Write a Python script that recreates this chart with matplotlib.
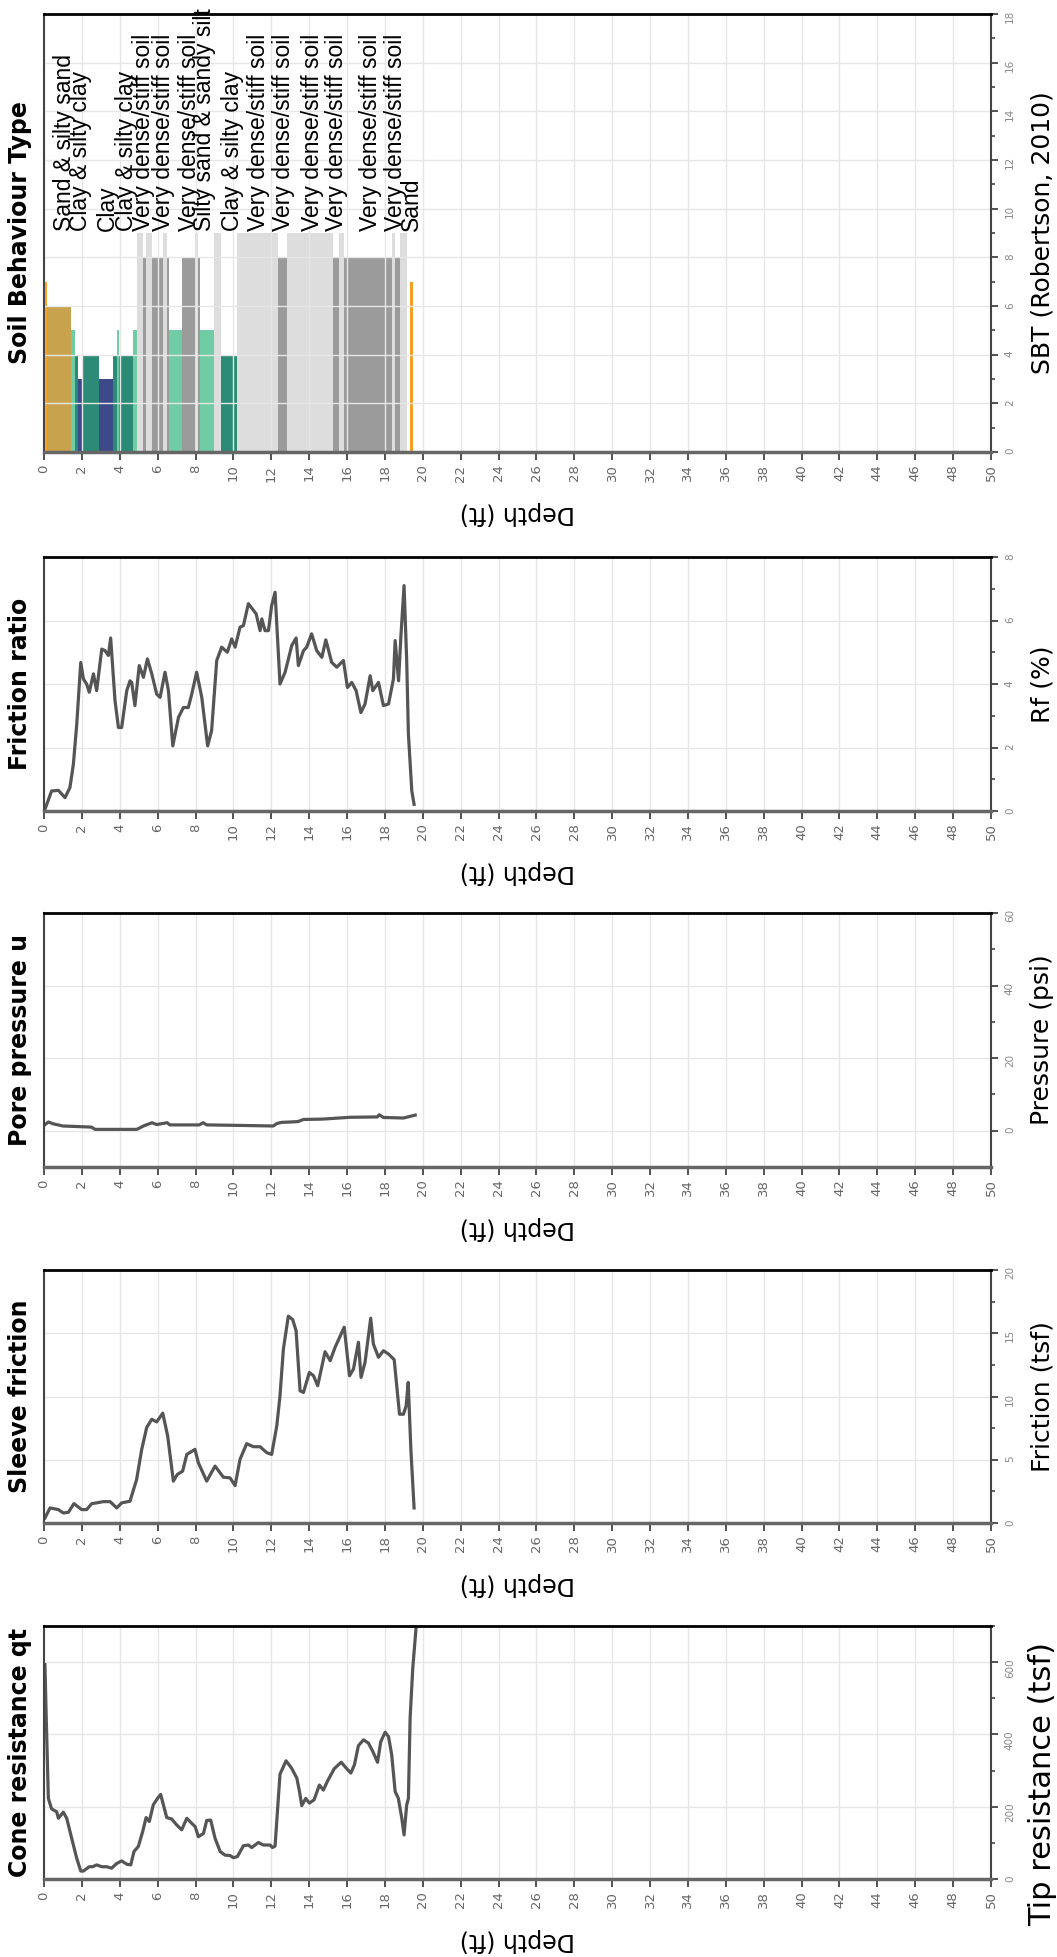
import matplotlib.pyplot as plt
import numpy as np

# cone resistance qt (tsf)
qt_depth = [0.05, 0.11, 0.23, 0.4, 0.67, 0.76, 1.02, 1.2, 1.46, 1.73, 1.94, 2.08, 2.39, 2.57, 2.78,
            3.05, 3.31, 3.57, 3.84, 4.1, 4.37, 4.58, 4.75, 4.98, 5.21, 5.39, 5.56, 5.77, 5.99, 6.16,
            6.48, 6.74, 7.0, 7.27, 7.54, 7.8, 7.98, 8.15, 8.42, 8.59, 8.8, 9.03, 9.3, 9.56, 9.82,
            10.0, 10.21, 10.53, 10.79, 10.97, 11.32, 11.58, 11.94, 12.06, 12.2, 12.46, 12.78, 13.08, 13.35, 13.49,
            13.61, 13.82, 14.01, 14.26, 14.54, 14.75, 14.96, 15.32, 15.69, 15.99, 16.2, 16.39, 16.6, 16.87, 17.13,
            17.36, 17.61, 17.78, 18.01, 18.19, 18.36, 18.54, 18.71, 18.89, 19.01, 19.15, 19.24, 19.33, 19.47, 19.65, 19.75]
qt = [593, 463, 223, 194, 186, 168, 185, 168, 113, 57, 22, 22, 34, 34, 39,
      34, 34, 30, 43, 50, 41, 39, 76, 90, 131, 170, 159, 205, 223, 234,
      170, 166, 150, 136, 168, 154, 145, 117, 126, 162, 163, 113, 76, 66, 65,
      59, 62, 92, 94, 87, 101, 94, 94, 87, 91, 290, 327, 306, 279, 242,
      203, 223, 210, 219, 260, 246, 270, 305, 323, 305, 293, 316, 369, 385, 376,
      353, 323, 380, 406, 394, 343, 242, 223, 168, 122, 205, 223, 445, 583, 699, 780]

# sleeve friction fs (tsf)
fs_depth = [0.05, 0.32, 0.76, 1.02, 1.29, 1.58, 1.99, 2.25, 2.52, 2.78, 3.13, 3.49, 3.84, 4.1, 4.54,
            4.89, 5.16, 5.42, 5.69, 5.95, 6.27, 6.53, 6.83, 7.04, 7.32, 7.54, 7.97, 8.15, 8.59, 9.03,
            9.47, 9.82, 10.09, 10.35, 10.7, 11.06, 11.41, 11.76, 12.02, 12.29, 12.46, 12.64, 12.9, 13.13, 13.31,
            13.52, 13.7, 14.01, 14.23, 14.45, 14.84, 15.11, 15.37, 15.85, 16.13, 16.34, 16.6, 16.74, 16.95, 17.25,
            17.39, 17.66, 17.92, 18.19, 18.49, 18.77, 18.98, 19.12, 19.23, 19.37, 19.54]
fs = [0.4, 1.19, 1.06, 0.79, 0.85, 1.53, 1.06, 1.06, 1.53, 1.59, 1.69, 1.69, 1.19, 1.59, 1.72,
      3.44, 5.82, 7.54, 8.2, 7.99, 8.68, 6.88, 3.31, 3.84, 4.1, 5.42, 5.82, 4.76, 3.31, 4.5,
      3.62, 3.57, 2.96, 5.03, 6.27, 6.03, 6.03, 5.56, 5.42, 7.67, 10.05, 13.76, 16.35, 16.08, 15.2,
      10.45, 10.32, 11.9, 11.64, 10.85, 13.54, 12.83, 13.89, 15.48, 11.64, 12.17, 14.29, 11.51, 12.7, 16.19,
      14.15, 13.1, 13.62, 13.36, 12.91, 8.6, 8.6, 9.26, 11.11, 5.82, 1.19]

# pore pressure u (psi)
u_depth = [0.0, 0.23, 0.49, 1.0, 2.5, 2.7, 4.9, 5.25, 5.7, 5.95, 6.5, 6.65, 8.2, 8.4, 8.6,
           10.35, 12.1, 12.3, 12.55, 13.4, 13.7, 14.7, 16.16, 17.6, 17.7, 17.92, 18.98, 19.6]
u = [1.46, 2.4, 1.9, 1.3, 1.0, 0.37, 0.37, 1.3, 2.2, 1.7, 2.2, 1.6, 1.6, 2.2, 1.6,
     1.46, 1.3, 2.0, 2.3, 2.5, 3.1, 3.2, 3.7, 3.8, 4.4, 3.65, 3.5, 4.3]

# friction ratio Rf (%)
fr_depth = [0.05, 0.4, 0.76, 1.11, 1.37, 1.55, 1.73, 1.94, 2.08, 2.25, 2.39, 2.61, 2.78, 3.05, 3.22,
            3.4, 3.52, 3.75, 3.93, 4.1, 4.37, 4.54, 4.63, 4.8, 5.03, 5.25, 5.46, 5.69, 5.95, 6.13,
            6.39, 6.57, 6.8, 7.1, 7.36, 7.62, 7.8, 8.06, 8.33, 8.64, 8.85, 9.12, 9.38, 9.68, 9.91,
            10.09, 10.35, 10.53, 10.79, 11.2, 11.41, 11.5, 11.67, 11.85, 12.02, 12.2, 12.46, 12.73, 13.08, 13.31,
            13.43, 13.7, 13.87, 14.13, 14.4, 14.67, 14.88, 15.19, 15.46, 15.81, 16.02, 16.25, 16.48, 16.73, 16.95,
            17.22, 17.36, 17.66, 17.92, 18.19, 18.45, 18.54, 18.72, 18.84, 19.01, 19.15, 19.24, 19.42, 19.54]
fr = [0.05, 0.63, 0.65, 0.42, 0.74, 1.47, 2.74, 4.68, 4.16, 4.0, 3.74, 4.32, 3.79, 5.1, 5.05,
      4.9, 5.45, 3.47, 2.63, 2.63, 3.79, 4.1, 4.05, 3.32, 4.58, 4.21, 4.79, 4.32, 3.68, 3.58,
      4.37, 3.79, 2.05, 2.95, 3.26, 3.26, 3.68, 4.37, 3.58, 2.05, 2.53, 4.74, 5.16, 5.0, 5.42,
      5.16, 5.79, 5.84, 6.53, 6.21, 5.68, 6.05, 5.68, 5.68, 6.47, 6.89, 4.0, 4.37, 5.21, 5.45,
      4.58, 5.05, 5.16, 5.58, 5.05, 4.84, 5.39, 4.68, 4.53, 4.74, 3.89, 4.05, 3.79, 3.1, 3.37,
      4.26, 3.79, 4.05, 3.32, 3.37, 4.16, 5.37, 4.1, 5.47, 7.1, 4.74, 2.42, 0.63, 0.21]

# soil behaviour type (Robertson 2010) layers
sbt_top = [0, 0.18, 1.41, 1.64, 1.81, 2.04, 2.92, 3.63, 3.87, 3.98, 4.72, 4.89, 5.25, 5.39, 5.69, 6.27, 6.51,
           6.62, 7.27, 7.98, 8.15, 8.24, 8.98, 9.33, 10.21, 12.38, 12.82, 15.28, 15.55, 15.85, 18.36, 18.54, 18.77, 19.33]
sbt_bottom = [0.18, 1.41, 1.64, 1.81, 2.04, 2.92, 3.63, 3.87, 3.98, 4.72, 4.89, 5.25, 5.39, 5.69, 6.27, 6.51, 6.62,
              7.27, 7.98, 8.15, 8.24, 8.98, 9.33, 10.21, 12.38, 12.82, 15.28, 15.55, 15.85, 18.36, 18.54, 18.77, 19.19, 19.47]
sbt_zone = [7, 6, 5, 4, 3, 4, 3, 4, 5, 4, 5, 9, 8, 9, 8, 9, 8, 5, 8, 9, 8, 5, 9, 4, 9, 8, 9, 8, 9, 8, 9, 8, 9, 7]

sbt_label_depth = [1.09, 1.95, 3.37, 4.35, 5.25, 6.3, 7.68, 8.5, 9.93, 11.33, 12.63, 14.15, 15.45, 17.26, 18.55, 19.4]
sbt_label_text = ['Sand & silty sand', 'Clay & silty clay', 'Clay', 'Clay & silty clay',
                  'Very dense/stiff soil', 'Very dense/stiff soil', 'Very dense/stiff soil',
                  'Silty sand & sandy silt', 'Clay & silty clay', 'Very dense/stiff soil',
                  'Very dense/stiff soil', 'Very dense/stiff soil', 'Very dense/stiff soil',
                  'Very dense/stiff soil', 'Very dense/stiff soil', 'Sand']

zone_colors = {3: '#3d4a8a', 4: '#2b8b76', 5: '#6fcca4', 6: '#c9a24e',
               7: '#f4a026', 8: '#9b9b9b', 9: '#dddddd'}

W, H = 1057, 1957
fig = plt.figure(figsize=(W / 100, H / 100), dpi=100)


def make_axes(top, bottom):
    return fig.add_axes([44 / W, (H - bottom) / H, 947 / W, (bottom - top) / H])


def setup(ax, top, bottom, title, ylabel, ylim, major, minor, label_y=0.5, label_size=18):
    ax.set_xlim(0, 50)
    ax.set_ylim(*ylim)
    ax.set_xticks(np.arange(0, 51, 2))
    ax.set_yticks(np.arange(0, ylim[1] + 0.01, major))
    ax.set_yticks(np.arange(minor, ylim[1] + 0.01, major), minor=True)
    ax.yaxis.tick_right()
    ax.grid(True, which='major', color='#e6e6e6', linewidth=1)
    ax.tick_params(axis='x', direction='out', length=6, width=1.3, color='#444444',
                   labelsize=9.5, labelcolor='#666666', labelrotation=90, pad=3)
    ax.tick_params(axis='y', which='major', direction='out', length=5, width=1.3, color='#444444',
                   labelsize=7.5, labelcolor='#888888', labelrotation=90, pad=5)
    ax.tick_params(axis='y', which='minor', direction='out', length=3, width=1.2, color='#444444')
    ax.spines['top'].set_color('black')
    ax.spines['top'].set_linewidth(2)
    ax.spines['bottom'].set_color('#666666')
    ax.spines['bottom'].set_linewidth(2.5)
    ax.spines['left'].set_color('#444444')
    ax.spines['left'].set_linewidth(1.5)
    ax.spines['right'].set_color('#444444')
    ax.spines['right'].set_linewidth(1.5)
    ax.text(-0.0253, 0.5, title, transform=ax.transAxes, rotation=90, ha='center', va='center',
            fontsize=17, fontweight='bold')
    ax.yaxis.set_label_position('right')
    ax.set_ylabel(ylabel, fontsize=label_size)
    ax.yaxis.label.set_rotation(90)
    ax.yaxis.label.set_rotation_mode('anchor')
    ax.yaxis.label.set_horizontalalignment('center')
    ax.yaxis.label.set_verticalalignment('center')
    ax.yaxis.set_label_coords(1.054, label_y)
    ax.set_xlabel('Depth (ft)', fontsize=17, rotation=180, ha='center', va='center')
    ax.xaxis.set_label_coords(0.5, -61 / (bottom - top))


line_kw = dict(color='#555555', linewidth=2.3)

# Soil behaviour type
ax = make_axes(14, 452)
setup(ax, 14, 452, 'Soil Behaviour Type', 'SBT (Robertson, 2010)', (0, 18), 2, 1)
ax.bar(sbt_top, sbt_zone, width=np.subtract(sbt_bottom, sbt_top), align='edge',
       color=[zone_colors[z] for z in sbt_zone], linewidth=0)
for d, t in zip(sbt_label_depth, sbt_label_text):
    ax.text(d, 9.1, t, rotation=90, ha='center', va='bottom', fontsize=16.5, family='Liberation Sans')

# Friction ratio
ax = make_axes(557, 811)
setup(ax, 557, 811, 'Friction ratio', 'Rf (%)', (0, 8), 2, 1)
ax.plot(fr_depth, fr, **line_kw)

# Pore pressure
ax = make_axes(913, 1167)
setup(ax, 913, 1167, 'Pore pressure u', 'Pressure (psi)', (-10, 60), 20, 10)
ax.plot(u_depth, u, **line_kw)

# Sleeve friction
ax = make_axes(1270, 1523)
setup(ax, 1270, 1523, 'Sleeve friction', 'Friction (tsf)', (0, 20), 5, 2.5)
ax.plot(fs_depth, fs, **line_kw)

# Cone resistance
ax = make_axes(1626, 1879)
setup(ax, 1626, 1879, 'Cone resistance qt', 'Tip resistance (tsf)', (0, 700), 200, 100,
      label_y=0.375, label_size=22)
ax.plot(qt_depth, qt, **line_kw)

fig.savefig('out.png', dpi=100)
